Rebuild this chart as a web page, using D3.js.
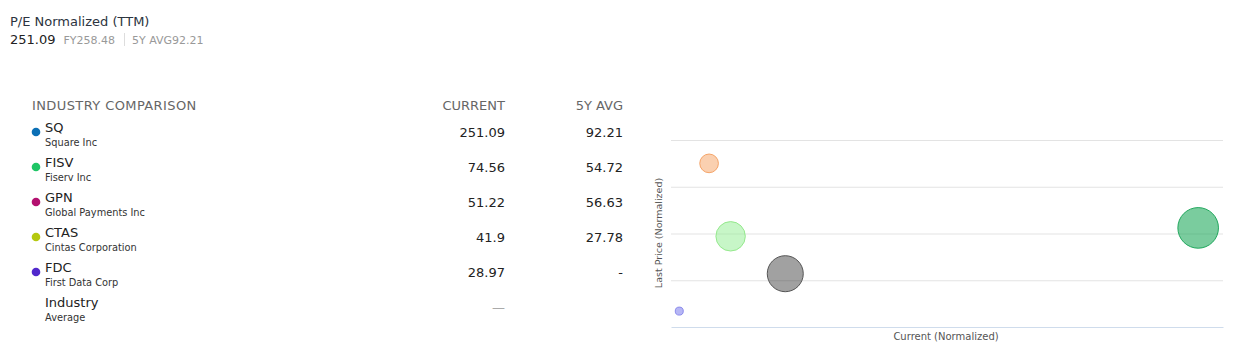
<!DOCTYPE html>
<html><head><meta charset="utf-8">
<script src="https://cdn.jsdelivr.net/npm/d3@7"></script>
<style>
body{margin:0;background:#fff;}
svg text{font-family:"DejaVu Sans",Verdana,sans-serif;}
</style></head>
<body><svg id="c" width="1255" height="355"></svg>
<script>
// ---- data ----
const title = "P/E Normalized (TTM)";
const headValue = "251.09";
const headFY = "FY258.48";
const headAvg = "5Y AVG92.21";
const tickers = ["SQ","FISV","GPN","CTAS","FDC","Industry"];
const names = ["Square Inc","Fiserv Inc","Global Payments Inc","Cintas Corporation","First Data Corp","Average"];
const dotColors = ["#0b6fb5","#1ec565","#b3106f","#b5c80f","#5128cc",null];
const currentVals = ["251.09","74.56","51.22","41.9","28.97","—"];
const avgVals = ["92.21","54.72","56.63","27.78","-",""];
const columnHeaders = ["INDUSTRY COMPARISON","CURRENT","5Y AVG"];
// bubble chart (normalized values)
const bubbleX = [95.5, 6.9, 10.8, 20.7, 1.5];
const bubbleY = [2.12, 3.5, 1.94, 1.14, 0.34];
const bubbleSize = [412, 87, 216, 324, 16];
const bubbleFill = ["rgba(34,170,94,0.6)","rgba(245,150,80,0.45)","rgba(144,238,144,0.5)","rgba(40,40,40,0.44)","rgba(110,110,235,0.5)"];
const bubbleStroke = ["#22a85e","#f5a468","#95e98d","#555555","#8a8aec"];
const yTicks = [0,1,2,3,4];
const xLabel = "Current (Normalized)";
const yLabel = "Last Price (Normalized)";

const svg = d3.select("#c");

// header
svg.append("text").attr("x",10).attr("y",26).attr("font-size",13).attr("fill","#2c3440").text(title);
const hv = svg.append("text").attr("x",10).attr("y",44).attr("font-size",13).attr("fill","#222");
hv.append("tspan").text(headValue);
hv.append("tspan").attr("dx",8).attr("font-size",11).attr("fill","#999").text(headFY);
svg.append("line").attr("x1",124.5).attr("x2",124.5).attr("y1",33).attr("y2",46).attr("stroke","#ddd");
svg.append("text").attr("x",132).attr("y",44).attr("font-size",11).attr("fill","#999").text(headAvg);

// table
const colX = [32, 505, 623];
svg.append("text").attr("x",colX[0]).attr("y",110).attr("font-size",13).attr("letter-spacing",0.4).attr("fill","#666").text(columnHeaders[0]);
svg.append("text").attr("x",colX[1]).attr("y",110).attr("font-size",13).attr("fill","#666").attr("text-anchor","end").text(columnHeaders[1]);
svg.append("text").attr("x",colX[2]).attr("y",110).attr("font-size",13).attr("fill","#666").attr("text-anchor","end").text(columnHeaders[2]);

const rowY = d3.scalePoint().domain(d3.range(tickers.length)).range([132, 307]);
const rows = svg.selectAll("g.row").data(tickers).join("g").attr("class","row")
  .attr("transform",(d,i)=>`translate(0,${rowY(i)})`);
rows.filter((d,i)=>dotColors[i]).append("circle").attr("cx",36).attr("cy",0).attr("r",4.3)
  .attr("fill",(d,i)=>dotColors[tickers.indexOf(d)]);
rows.append("text").attr("x",45).attr("y",0).attr("font-size",13).attr("fill","#222").text(d=>d);
rows.append("text").attr("x",45).attr("y",14).attr("font-size",9.8).attr("fill","#333").text((d,i)=>names[i]);
rows.append("text").attr("x",colX[1]).attr("y",5).attr("font-size",13).attr("text-anchor","end")
  .attr("fill",(d,i)=>i===5?"#aaa":"#222").text((d,i)=>currentVals[i]);
rows.append("text").attr("x",colX[2]).attr("y",5).attr("font-size",13).attr("text-anchor","end")
  .attr("fill","#222").text((d,i)=>avgVals[i]);

// bubble chart
const x = d3.scaleLinear().domain([0,100]).range([671,1223]);
const y = d3.scaleLinear().domain([0,4]).range([327,140]);
const r = d3.scaleSqrt().domain([0,412]).range([0,20.3]);

const grid = svg.append("g").attr("transform","translate(671,0)")
  .call(d3.axisLeft(y).tickValues(yTicks.slice(1)).tickSize(-552).tickFormat(""));
grid.select(".domain").remove();
grid.selectAll("line").attr("stroke","#e3e3e3");

const xa = svg.append("g").attr("transform","translate(0,327)")
  .call(d3.axisBottom(x).tickValues([]).tickSizeOuter(0));
xa.select(".domain").attr("stroke","#cfdcec");

const idx = d3.range(bubbleX.length);
svg.append("g").selectAll("circle").data(idx).join("circle")
  .attr("cx",i=>x(bubbleX[i])).attr("cy",i=>y(bubbleY[i])).attr("r",i=>r(bubbleSize[i]))
  .attr("fill",i=>bubbleFill[i]).attr("stroke",i=>bubbleStroke[i]).attr("stroke-width",1);

svg.append("text").attr("x",946).attr("y",340).attr("font-size",10).attr("fill","#555")
  .attr("text-anchor","middle").text(xLabel);
svg.append("text").attr("transform","translate(662,233) rotate(-90)").attr("font-size",9.5).attr("fill","#555")
  .attr("text-anchor","middle").text(yLabel);
</script></body></html>
